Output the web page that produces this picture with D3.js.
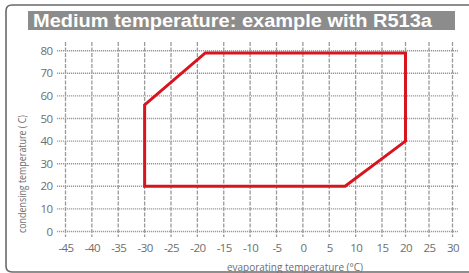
<!DOCTYPE html>
<html><head><meta charset="utf-8">
<script src="https://cdn.jsdelivr.net/npm/d3@7"></script>
<style>html,body{margin:0;padding:0;background:#fff;}svg{display:block;}</style>
</head><body>
<svg id="c" width="469" height="273"></svg>
<script>
const title = "Medium temperature: example with R513a";
const xLabel = "evaporating temperature (°C)";
const yLabel = "condensing temperature ( C)";
const xTicks = [-45,-40,-35,-30,-25,-20,-15,-10,-5,0,5,10,15,20,25,30];
const yTicks = [0,10,20,30,40,50,60,70,80];
// operating envelope (evaporating °C, condensing °C)
const envEvap = [-30, -30, -18.5, 20, 20, 8];
const envCond = [20, 56, 79, 79, 40, 20];

const svg = d3.select("#c");
const x = d3.scaleLinear().domain([-45, 15, 30]).range([65.5, 382, 452.5]);
const y = d3.scaleLinear().domain([0, 80]).range([231.5, 50.7]);
const font = "'Open Sans', 'Noto Sans', sans-serif";

// frame
svg.append("path")
  .attr("d", "M470,5 H12 Q6,5 6,11 V266 Q6,272 12,272 H470")
  .attr("fill", "none").attr("stroke", "#6a6a6a").attr("stroke-width", 1.6);

// title
svg.append("rect").attr("x", 28).attr("y", 11).attr("width", 427).attr("height", 19).attr("fill", "#8c8c8c");
svg.append("text").attr("x", 33).attr("y", 27).text(title)
  .attr("fill", "#fff").attr("font-family", "Liberation Sans, Arial, sans-serif")
  .attr("font-weight", "bold").attr("font-size", 18)
  .attr("textLength", 399).attr("lengthAdjust", "spacingAndGlyphs");

// grid
const g = svg.append("g");
g.selectAll("line.v").data(xTicks).join("line")
  .attr("x1", d => x(d)).attr("x2", d => x(d)).attr("y1", 42).attr("y2", 237)
  .attr("stroke", "#9a9a9a").attr("stroke-width", 1.3).attr("stroke-dasharray", "4,1.5");
g.selectAll("line.h").data(yTicks).join("line")
  .attr("x1", 57).attr("x2", 458).attr("y1", d => y(d)).attr("y2", d => y(d))
  .attr("stroke", "#9a9a9a").attr("stroke-width", 1.4).attr("stroke-dasharray", "1.2,0.8");

// tick labels via d3 axes (no domain lines)
const xa = svg.append("g").attr("transform", `translate(0,${y(0)})`)
  .call(d3.axisBottom(x).tickValues(xTicks).tickSize(0).tickPadding(12).tickFormat(d => String(d)));
const ya = svg.append("g").attr("transform", `translate(${x(-45)},0)`)
  .call(d3.axisLeft(y).tickValues(yTicks).tickSize(0).tickPadding(13).tickFormat(d => String(d)));
[xa, ya].forEach(a => {
  a.select(".domain").remove();
  a.selectAll("text").attr("fill", "#6e6e6e").attr("font-size", 11.5)
    .attr("font-family", font).attr("letter-spacing", -0.6);
});

svg.append("text").attr("x", 295).attr("y", 271).attr("text-anchor", "middle").text(xLabel)
  .attr("fill", "#6e6e6e").attr("font-size", 11).attr("font-family", font)
  .attr("textLength", 136).attr("lengthAdjust", "spacingAndGlyphs");
svg.append("text").attr("transform", "translate(26,174) rotate(-90)").attr("text-anchor", "middle").text(yLabel)
  .attr("fill", "#6e6e6e").attr("font-size", 11).attr("font-family", font)
  .attr("textLength", 118).attr("lengthAdjust", "spacingAndGlyphs");

// envelope
const pts = envEvap.map((e, i) => [x(e), y(envCond[i])]);
svg.append("path").attr("d", d3.line()(pts) + "Z")
  .attr("fill", "none").attr("stroke", "#d8141e").attr("stroke-width", 3).attr("stroke-linejoin", "miter");
</script>
</body></html>
